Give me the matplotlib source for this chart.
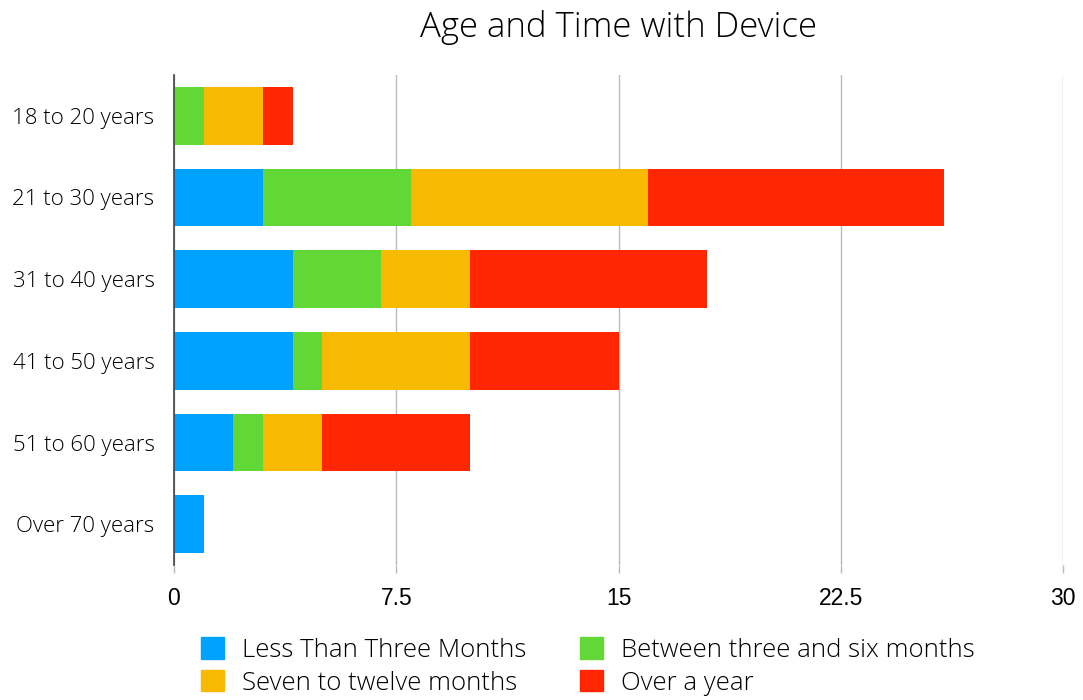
import matplotlib
matplotlib.use("Agg")
import matplotlib.pyplot as plt
from matplotlib.patches import Patch

# data
ages = ['18 to 20 years', '21 to 30 years', '31 to 40 years',
        '41 to 50 years', '51 to 60 years', 'Over 70 years']
less_three = [0, 3, 4, 4, 2, 1]
three_six = [1, 5, 3, 1, 1, 0]
seven_twelve = [2, 8, 3, 5, 2, 0]
over_year = [1, 10, 8, 5, 5, 0]

series = [
    ('Less Than Three Months', less_three, '#00A2FF'),
    ('Between three and six months', three_six, '#61D836'),
    ('Seven to twelve months', seven_twelve, '#F8BA00'),
    ('Over a year', over_year, '#FF2600'),
]
xticks = [0, 7.5, 15, 22.5, 30]
xticklabels = ['0', '7.5', '15', '22.5', '30']

label_font = 'Open Sans'

fig = plt.figure(figsize=(10.83, 7), dpi=100)
ax = fig.add_axes([174 / 1083, 1 - 565 / 700, 889 / 1083, 490 / 700])

y = list(range(len(ages)))
left = [0] * len(ages)
for name, vals, color in series:
    ax.barh(y, vals, left=left, height=0.71, color=color, label=name, zorder=3)
    left = [a + b for a, b in zip(left, vals)]

ax.set_xlim(0, 30)
ax.set_ylim(len(ages) - 0.5, -0.5)

ax.set_xticks(xticks)
ax.set_xticklabels(xticklabels, fontsize=16.5, family='Liberation Sans')
ax.tick_params(axis='x', length=6, color='#BBBBBB', width=1, pad=10)
ax.set_yticks(y)
ax.set_yticklabels(ages, fontsize=16, family=label_font, fontweight='light')
ax.tick_params(axis='y', length=0, pad=14)

ax.grid(axis='x', color='#BBBBBB', linewidth=1, zorder=0)
for s in ['top', 'right', 'bottom']:
    ax.spines[s].set_visible(False)
ax.spines['left'].set_color('#444444')
ax.spines['left'].set_linewidth(1.2)
ax.spines['left'].set_zorder(4)

fig.text(0.571, 0.961, 'Age and Time with Device', ha='center', va='center',
         fontsize=25, family=label_font, fontweight='light')

# legend fills row by row in the reference
order = [0, 2, 1, 3]
handles = [Patch(color=series[i][2], label=series[i][0]) for i in order]
fig.legend(handles=handles, loc='center', bbox_to_anchor=(0.543, 0.048), ncol=2,
           frameon=False, prop={'family': label_font, 'weight': 'light', 'size': 18.5},
           handlelength=0.9, handleheight=0.9, handletextpad=0.7,
           columnspacing=2.1, labelspacing=0.28)

fig.savefig('out.png', dpi=100)
